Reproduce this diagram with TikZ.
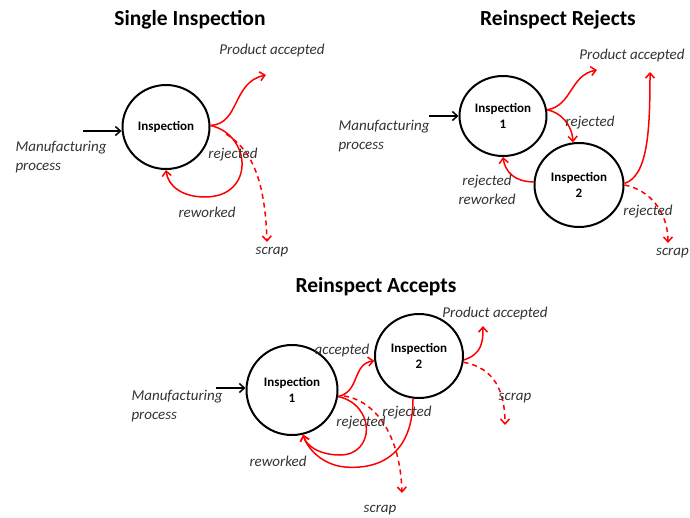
\documentclass[tikz,border=0pt]{standalone}
\usepackage{fontspec}
\setmainfont{Carlito}
\usetikzlibrary{arrows.meta,shapes.geometric}
\begin{document}
\begin{tikzpicture}[x=1pt,y=-1pt,
  insp/.style={ellipse,draw=black,line width=2pt,inner sep=0pt,align=center,
    font=\fontsize{13}{16}\selectfont\bfseries},
  title/.style={font=\fontsize{21.5}{24}\selectfont\bfseries},
  lbl/.style={font=\fontsize{15}{19}\selectfont\itshape,text=black!80},
  feed/.style={draw=black,line width=1.5pt,-{Straight Barb[length=5pt,width=9pt]}},
  flow/.style={draw=red,line width=1.5pt,-{Straight Barb[length=5pt,width=9pt]}},
  scrapflow/.style={flow,dash pattern=on 5pt off 4pt}]
\useasboundingbox (0,0) rectangle (690,517);

% ---------------- Single Inspection ----------------
\node[title] (t1) at (190,20) {Single Inspection};
\node[insp,minimum width=87pt,minimum height=84pt] (s1) at (166,127) {Inspection};
\coordinate (s1in) at (83,131);
\coordinate (s1acc) at (266,75);
\coordinate (s1sc0) at (226,134);
\coordinate (s1sc) at (267,242);
\draw[feed] (s1in) -- (s1in -| s1.west);
\draw[flow] (s1.2) .. controls (240,124) and (232,82) .. (s1acc);
\draw[flow] (s1.2) .. controls (252,135) and (255,197) .. (205,197)
  .. controls (182,197) and (168,186) .. (s1.south);
\draw[scrapflow] (s1sc0) .. controls (252,150) and (265,180) .. (s1sc);
\node[lbl] (s1pa) at (272,50) {Product accepted};
\node[lbl,anchor=west,align=left] (s1mp) at (12,157) {Manufacturing\\process};
\node[lbl] (s1rj) at (233,155) {rejected};
\node[lbl] (s1rw) at (207,212) {reworked};
\node[lbl] (s1sx) at (272,252) {scrap};

% ---------------- Reinspect Rejects ----------------
\node[title] (t2) at (558,20) {Reinspect Rejects};
\node[insp,minimum width=87pt,minimum height=80pt] (r1) at (503,116) {Inspection\\1};
\node[insp,minimum width=89pt,minimum height=84pt] (r2) at (579,185) {Inspection\\2};
\coordinate (r1in) at (429,116);
\coordinate (r1acc) at (597,70);
\coordinate (r2acc) at (650,72);
\coordinate (r2sc) at (668,243);
\draw[feed] (r1in) -- (r1in -| r1.west);
\draw[flow] (r1.8) .. controls (572,106) and (570,75) .. (r1acc);
\draw[flow] (r1.8) .. controls (560,112) and (572,124) .. (r2.98);
\draw[flow] (r2.176) .. controls (515,182) and (505,172) .. (r1.south);
\draw[flow] (r2.2) .. controls (648,176) and (650,130) .. (r2acc);
\draw[scrapflow] (r2.0) .. controls (650,190) and (668,212) .. (r2sc);
\node[lbl] (r1pa) at (632,55) {Product accepted};
\node[lbl,anchor=west,align=left] (r1mp) at (335,136) {Manufacturing\\process};
\node[lbl] (r12rj) at (590,123) {rejected};
\node[lbl,align=center] (r21rw) at (487,190) {rejected\\reworked};
\node[lbl] (r2rj) at (648,212) {rejected};
\node[lbl,anchor=east,inner xsep=0pt] (r2sx) at (689,253) {scrap};

% ---------------- Reinspect Accepts ----------------
\node[title] (t3) at (376,287) {Reinspect Accepts};
\node[insp,minimum width=91pt,minimum height=90pt] (a1) at (292,390) {Inspection\\1};
\node[insp,minimum width=88pt,minimum height=84pt] (a2) at (419,356) {Inspection\\2};
\coordinate (a1in) at (216,388);
\coordinate (a1sc0) at (344,396);
\coordinate (a1sc) at (402,493);
\coordinate (a2acc) at (483,326);
\coordinate (a2sc) at (505,425);
\draw[feed] (a1in) -- (a1in -| a1.west);
\draw[flow] (a1.-8) .. controls (360,392) and (352,364) .. (a2.186);
\draw[flow] (a1.-8) .. controls (376,405) and (375,455) .. (340,455)
  .. controls (320,455) and (306,446) .. (a1.-76);
\draw[flow] (a2.-98) .. controls (413,452) and (382,470) .. (345,467)
  .. controls (322,465) and (307,448) .. (a1.-76);
\draw[scrapflow] (a1sc0) .. controls (372,400) and (400,430) .. (a1sc);
\draw[flow] (a2.-5) .. controls (482,354) and (483,342) .. (a2acc);
\draw[scrapflow] (a2.-8) .. controls (495,368) and (505,392) .. (a2sc);
\node[lbl] (a2pa) at (495,313) {Product accepted};
\node[lbl,anchor=west,align=left] (a1mp) at (128,406) {Manufacturing\\process};
\node[lbl] (a12ac) at (342,350) {accepted};
\node[lbl] (a1rj) at (361,423) {rejected};
\node[lbl] (a2rj) at (407,413) {rejected};
\node[lbl] (a1rw) at (278,461) {reworked};
\node[lbl] (a1sx) at (380,510) {scrap};
\node[lbl] (a2sx) at (515,398) {scrap};
\end{tikzpicture}
\end{document}
